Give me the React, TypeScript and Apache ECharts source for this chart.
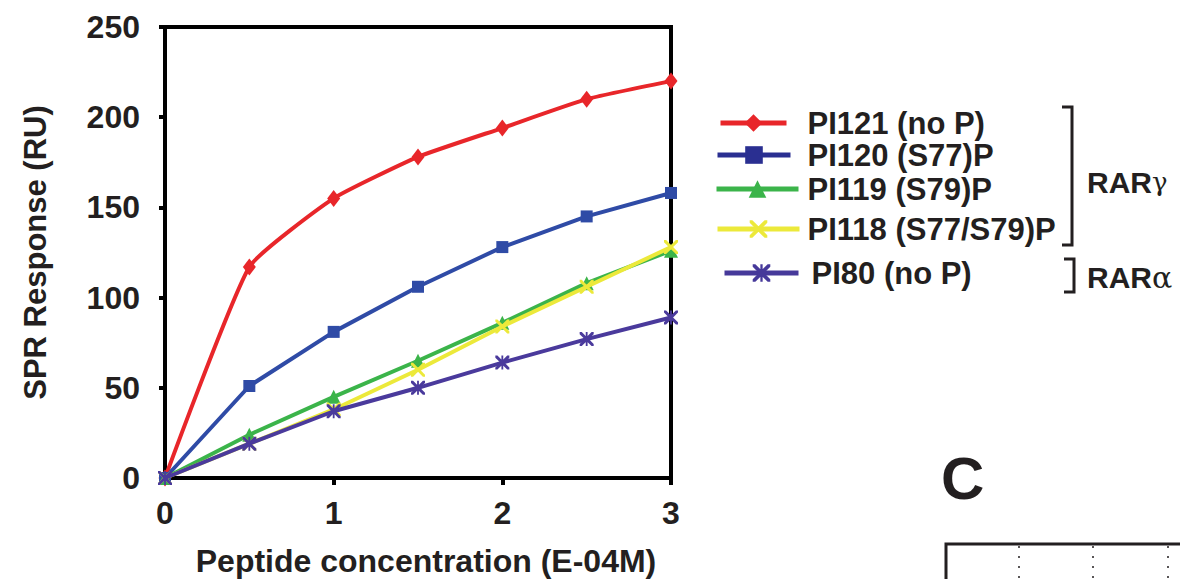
import React, { useEffect, useRef } from "react";
import * as echarts from "echarts";

const xValues = [0, 0.5, 1, 1.5, 2, 2.5, 3];
const seriesNames = ["PI121 (no P)", "PI120 (S77)P", "PI119 (S79)P", "PI118 (S77/S79)P", "PI80 (no P)"];
const pi121 = [0, 117, 155, 178, 194, 210, 220];
const pi120 = [0, 51, 81, 106, 128, 145, 158];
const pi119 = [0, 24, 45, 65, 86, 108, 126];
const pi118 = [0, 19, 38, 60, 84, 106, 128];
const pi80 = [0, 19, 37, 50, 64, 77, 89];
const xTicks = [0, 1, 2, 3];
const yTicks = [0, 50, 100, 150, 200, 250];

const FONT = "'Liberation Sans', Arial, Helvetica, sans-serif";

const X_PATH =
  "path://M0,0 L3,0 L10,7 L17,0 L20,0 L20,3 L13,10 L20,17 L20,20 L17,20 L10,13 L3,20 L0,20 L0,17 L7,10 L0,3 Z";
const STAR_PATH =
  "path://M0,0 L3,0 L10,7 L17,0 L20,0 L20,3 L13,10 L20,17 L20,20 L17,20 L10,13 L3,20 L0,20 L0,17 L7,10 L0,3 Z M8.7,0 L11.3,0 L11.3,20 L8.7,20 Z";

export default function App() {
  const ref = useRef<HTMLDivElement>(null);
  useEffect(() => {
    if (!ref.current) return;
    const chart = echarts.init(ref.current, undefined, { renderer: "svg" });
    const toData = (vals: number[]) => xValues.map((x, i) => [x, vals[i]]);
    const colors = ["#e8262a", "#2f4ba6", "#3bb44a", "#ece93a", "#4a3a9c"];
    const legendColors = ["#e8262a", "#2a2f91", "#3bb44a", "#ece93a", "#46399a"];
    const symbols = ["diamond", "rect", "triangle", X_PATH, STAR_PATH];
    const sizes = [[13, 17], 12, 14, 14, 14];
    const values = [pi121, pi120, pi119, pi118, pi80];

    const series = values.map((v, i) => ({
      name: seriesNames[i],
      type: "line",
      data: toData(v),
      smooth: i === 0 ? 0.15 : false,
      symbol: symbols[i],
      symbolSize: sizes[i],
      showAllSymbol: true,
      lineStyle: { color: colors[i], width: 4 },
      itemStyle: { color: colors[i] },
      z: 2 + i,
    }));

    const legendCenters = [123, 155, 189, 229, 273];
    const legendLefts = [718, 715, 714, 715, 722];
    const legendWidths = [66, 73, 82, 82, 74];
    const textStarts = [805, 805, 805, 805, 809];
    const legends = seriesNames.map((n, i) => ({
      data: [n],
      left: legendLefts[i],
      top: legendCenters[i] - 18,
      orient: "vertical",
      padding: 0,
      itemWidth: legendWidths[i],
      itemHeight: 22,
      selectedMode: false,
      lineStyle: { width: 5, color: legendColors[i] },
      itemStyle: { color: legendColors[i] },
      textStyle: {
        fontFamily: FONT,
        fontWeight: "bold",
        fontSize: 31,
        lineHeight: 36,
        color: "#231f20",
        padding: [0, 0, 0, textStarts[i] - legendLefts[i] - legendWidths[i] - 5],
      },
    }));

    const lineStyle = { stroke: "#231f20", lineWidth: 3, fill: null };

    chart.setOption({
      animation: false,
      backgroundColor: "#ffffff",
      grid: {
        left: 165,
        right: 509,
        top: 27,
        bottom: 101,
        show: true,
        outerBoundsMode: "none",
        containLabel: false,
        borderColor: "#000",
        borderWidth: 4,
        backgroundColor: "transparent",
      },
      legend: legends,
      xAxis: {
        type: "value",
        min: xTicks[0],
        max: xTicks[xTicks.length - 1],
        interval: 1,
        name: "Peptide concentration (E-04M)",
        nameLocation: "middle",
        nameGap: 67,
        nameTextStyle: { fontFamily: FONT, fontWeight: "bold", fontSize: 32, color: "#231f20", padding: [0, 0, 0, 16] },
        axisLine: { show: true, lineStyle: { color: "#000", width: 4 } },
        axisTick: { show: true, inside: false, length: 7, lineStyle: { color: "#000", width: 4 } },
        axisLabel: { fontFamily: FONT, fontWeight: "bold", fontSize: 32, color: "#231f20", margin: 19 },
        splitLine: { show: false },
      },
      yAxis: {
        type: "value",
        min: yTicks[0],
        max: yTicks[yTicks.length - 1],
        interval: 50,
        name: "SPR Response (RU)",
        nameLocation: "middle",
        nameGap: 114,
        nameRotate: 90,
        nameTextStyle: { fontFamily: FONT, fontWeight: "bold", fontSize: 31, color: "#231f20" },
        axisLine: { show: true, lineStyle: { color: "#000", width: 4 } },
        axisTick: { show: true, inside: false, length: 6, lineStyle: { color: "#000", width: 4 } },
        axisLabel: { fontFamily: FONT, fontWeight: "bold", fontSize: 32, color: "#231f20", margin: 25 },
        splitLine: { show: false },
      },
      series,
      graphic: [
        {
          type: "polyline",
          shape: { points: [[1062, 107], [1072, 107], [1072, 245], [1062, 245]] },
          style: lineStyle,
        },
        {
          type: "polyline",
          shape: { points: [[1064, 259], [1074, 259], [1074, 292], [1064, 292]] },
          style: lineStyle,
        },
        {
          type: "text",
          x: 1087,
          y: 182,
          style: {
            text: "{b|RAR}{g|γ}",
            verticalAlign: "middle",
            rich: {
              b: { fontFamily: FONT, fontWeight: "bold", fontSize: 30, fill: "#231f20" },
              g: { fontFamily: "'DejaVu Serif', serif", fontSize: 26, fill: "#231f20" },
            },
          },
        },
        {
          type: "text",
          x: 1087,
          y: 277,
          style: {
            text: "{b|RAR}{g|α}",
            verticalAlign: "middle",
            rich: {
              b: { fontFamily: FONT, fontWeight: "bold", fontSize: 30, fill: "#231f20" },
              g: { fontFamily: "'DejaVu Serif', serif", fontSize: 30, fill: "#231f20" },
            },
          },
        },
        {
          type: "text",
          x: 941,
          y: 478,
          style: {
            text: "C",
            fontFamily: FONT,
            fontWeight: "bold",
            fontSize: 60,
            fill: "#231f20",
            verticalAlign: "middle",
          },
        },
        {
          type: "polyline",
          shape: { points: [[946, 579], [946, 544], [1180, 544]] },
          style: { stroke: "#231f20", lineWidth: 3, fill: null },
        },
        ...[1019, 1093, 1168].map((x) => ({
          type: "line",
          shape: { x1: x, y1: 546, x2: x, y2: 579 },
          style: { stroke: "#231f20", lineWidth: 1.5, lineDash: [2, 8] },
        })),
      ],
    });
    return () => chart.dispose();
  }, []);
  return (
    <div
      ref={ref}
      style={{ position: "absolute", left: 0, top: 0, width: 1180, height: 579 }}
    />
  );
}
